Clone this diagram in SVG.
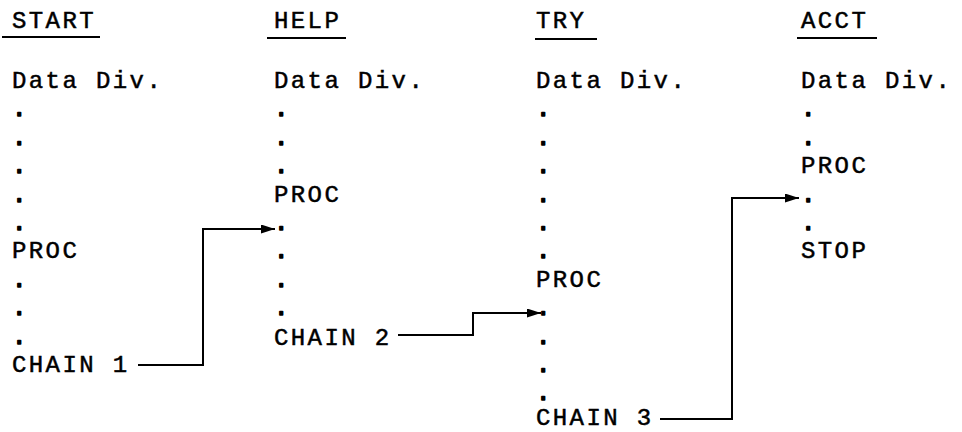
<svg xmlns="http://www.w3.org/2000/svg" width="962" height="432" viewBox="0 0 962 432">
<style>
text{font-family:"Liberation Mono","Courier New",monospace;font-size:24px;letter-spacing:2.4px;fill:#000;stroke:#000;stroke-width:0.5}
text.d{stroke-width:1.6;stroke-linejoin:round}
.ul{stroke:#000;stroke-width:2}
.conn{fill:none;stroke:#000;stroke-width:2}
</style>
<defs>
<marker id="ah" markerUnits="userSpaceOnUse" markerWidth="16" markerHeight="10" refX="14" refY="4.5" orient="auto">
<path d="M0,0 L14,4.5 L0,9 z" fill="#000"/>
</marker>
</defs>
<rect width="962" height="432" fill="#fff"/>
<g id="start">
<text x="12" y="28">START</text>
<line class="ul" x1="2" y1="37" x2="100" y2="37"/>
<text x="12" y="88">Data Div.</text>
<text class="d" x="12" y="116.4">.</text>
<text class="d" x="12" y="144.8">.</text>
<text class="d" x="12" y="173.2">.</text>
<text class="d" x="12" y="201.6">.</text>
<text class="d" x="12" y="230">.</text>
<text x="12" y="257.5">PROC</text>
<text class="d" x="12" y="286.8">.</text>
<text class="d" x="12" y="315.2">.</text>
<text class="d" x="12" y="343.6">.</text>
<text x="12" y="372">CHAIN 1</text>
</g>
<g id="help">
<text x="274" y="28">HELP</text>
<line class="ul" x1="267" y1="38" x2="346" y2="38"/>
<text x="274" y="88">Data Div.</text>
<text class="d" x="274" y="116.4">.</text>
<text class="d" x="274" y="144.8">.</text>
<text class="d" x="274" y="173.2">.</text>
<text x="274" y="201.6">PROC</text>
<text class="d" x="274" y="230">.</text>
<text class="d" x="274" y="258.4">.</text>
<text class="d" x="274" y="286.8">.</text>
<text class="d" x="274" y="315.2">.</text>
<text x="274" y="344.5">CHAIN 2</text>
</g>
<g id="try">
<text x="536" y="28">TRY</text>
<line class="ul" x1="535" y1="39" x2="597" y2="39"/>
<text x="536" y="88">Data Div.</text>
<text class="d" x="536" y="116.4">.</text>
<text class="d" x="536" y="144.8">.</text>
<text class="d" x="536" y="173.2">.</text>
<text class="d" x="536" y="201.6">.</text>
<text class="d" x="536" y="230">.</text>
<text class="d" x="536" y="258.4">.</text>
<text x="536" y="286.8">PROC</text>
<text class="d" x="536" y="315.2">.</text>
<text class="d" x="536" y="343.6">.</text>
<text class="d" x="536" y="372">.</text>
<text class="d" x="536" y="400.4">.</text>
<text x="536" y="425">CHAIN 3</text>
</g>
<g id="acct">
<text x="801" y="28">ACCT</text>
<line class="ul" x1="797" y1="38" x2="877" y2="38"/>
<text x="801" y="88">Data Div.</text>
<text class="d" x="801" y="116.4">.</text>
<text class="d" x="801" y="144.8">.</text>
<text x="801" y="172.5">PROC</text>
<text class="d" x="801" y="201.6">.</text>
<text class="d" x="801" y="230">.</text>
<text x="801" y="257.5">STOP</text>
</g>
<g id="connectors">
<path class="conn" d="M138,365 H203 V229 H275" marker-end="url(#ah)"/>
<path class="conn" d="M398,335 H473 V313 H541" marker-end="url(#ah)"/>
<path class="conn" d="M660,419 H732 V198 H799" marker-end="url(#ah)"/>
</g>
</svg>
